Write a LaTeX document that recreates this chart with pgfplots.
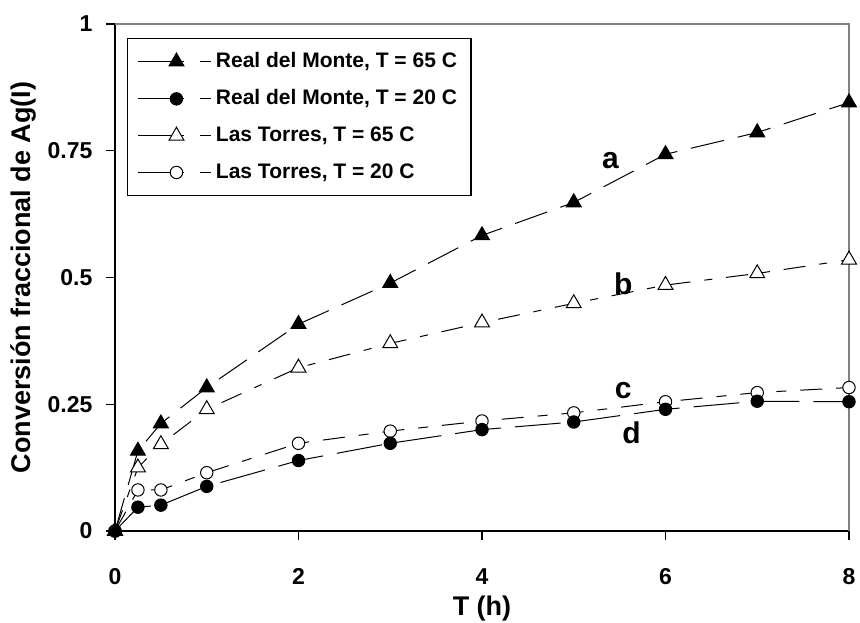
\documentclass[border=0pt]{standalone}
\usepackage{fontspec}
\setmainfont{Liberation Sans}
\usepackage{pgfplots}
\pgfplotsset{compat=1.18}
\pgfplotsset{
  myleg/.style={legend image code/.code={
    \draw[solid,line width=0.5pt,mark=none] (0pt,0pt)--(23pt,0pt);
    \draw[solid,line width=0.5pt,mark=none] (30.8pt,0pt)--(36.7pt,0pt);
    \draw[solid] plot coordinates {(19.2pt,0pt)};
  }}
}
\begin{document}
\begin{tikzpicture}
\useasboundingbox (0,0) rectangle (430pt,311pt);
\begin{axis}[
  at={(57.5pt,45.5pt)}, anchor=south west,
  width=367pt, height=253.5pt, scale only axis,
  xmin=0, xmax=8, ymin=0, ymax=1,
  axis x line*=bottom, axis y line*=left,
  axis line style={-, black, line width=0.6pt},
  xtick={0,2,4,6,8}, xticklabels={0,2,4,6,8},
  ytick={0,0.25,0.5,0.75,1}, yticklabels={0,0.25,0.5,0.75,1},
  tick align=outside, major tick length=4.3pt,
  tick style={black, line width=0.6pt},
  ticklabel style={font=\bfseries\fontsize{11.5}{13}\selectfont},
  xticklabel style={yshift=-11pt},
  yticklabel style={xshift=-3.5pt},
  /pgf/number format/assume math mode=true,
  xlabel={T (h)}, ylabel={Conversión fraccional de Ag(I)},
  label style={font=\bfseries\fontsize{13.5}{16}\selectfont},
  xlabel style={at={(axis description cs:0.5,-0.152)}, anchor=center},
  ylabel style={at={(axis description cs:-0.1253,0.5)}, anchor=center},
  clip=false,
  reverse legend,
  legend cell align=left,
  legend style={at={(axis description cs:0.0163,0.9725)}, anchor=north west,
    draw=black, line width=0.6pt, fill=white,
    font=\bfseries\fontsize{10.5}{12}\selectfont,
    row sep=5.5pt, inner xsep=5pt, inner ysep=5pt},
]
\addplot[black, line width=0.5pt, dash pattern=on 11pt off 7pt on 5pt off 7pt, mark=*, mark size=3.1pt,
  mark options={solid, fill=white}, myleg] coordinates {
  (0,0) (0.25,0.081) (0.5,0.081) (1,0.115) (2,0.173) (3,0.197) (4,0.217) (5,0.233) (6,0.255) (7,0.273) (8,0.283)};
\addlegendentry{Las Torres, T = 20 C}
\addplot[black, line width=0.5pt, dash pattern=on 11pt off 7pt on 4pt off 7pt, mark=triangle*, mark size=4.3pt,
  mark options={solid, fill=white}, myleg] coordinates {
  (0,0) (0.25,0.125) (0.5,0.171) (1,0.24) (2,0.322) (3,0.37) (4,0.411) (5,0.449) (6,0.485) (7,0.508) (8,0.535)};
\addlegendentry{Las Torres, T = 65 C}
\addplot[black, line width=0.5pt, dash pattern=on 23pt off 7pt, mark=*, mark size=3.1pt,
  mark options={solid, fill=black}, myleg] coordinates {
  (0,0) (0.25,0.047) (0.5,0.051) (1,0.088) (2,0.139) (3,0.173) (4,0.2) (5,0.215) (6,0.24) (7,0.256) (8,0.255)};
\addlegendentry{Real del Monte, T = 20 C}
\addplot[black, line width=0.5pt, dash pattern=on 17pt off 7pt, mark=triangle*, mark size=4.3pt,
  mark options={solid, fill=black}, myleg] coordinates {
  (0,0) (0.25,0.158) (0.5,0.212) (1,0.283) (2,0.408) (3,0.489) (4,0.583) (5,0.648) (6,0.743) (7,0.786) (8,0.845)};
\addlegendentry{Real del Monte, T = 65 C}
\draw[gray, line width=0.6pt] (rel axis cs:0,1) -- (rel axis cs:1,1) -- (rel axis cs:1,0);
\node[font=\bfseries\fontsize{15}{18}\selectfont] at (axis cs:5.4,0.73) {a};
\node[font=\bfseries\fontsize{15}{18}\selectfont] at (axis cs:5.54,0.487) {b};
\node[font=\bfseries\fontsize{15}{18}\selectfont] at (axis cs:5.54,0.276) {c};
\node[font=\bfseries\fontsize{15}{18}\selectfont] at (axis cs:5.63,0.194) {d};
\end{axis}
\end{tikzpicture}
\end{document}
